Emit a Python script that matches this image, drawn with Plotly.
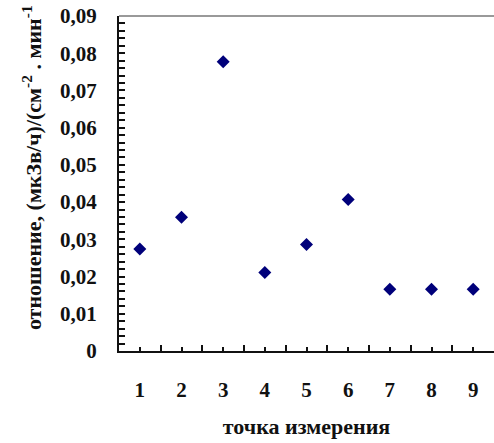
import plotly.graph_objects as go

points = [1, 2, 3, 4, 5, 6, 7, 8, 9]
ratio = [0.0274, 0.0359, 0.0777, 0.0211, 0.0286, 0.0407, 0.0166, 0.0166, 0.0166]
y_ticks = [0, 0.01, 0.02, 0.03, 0.04, 0.05, 0.06, 0.07, 0.08, 0.09]
y_tick_labels = ["0", "0,01", "0,02", "0,03", "0,04", "0,05", "0,06", "0,07", "0,08", "0,09"]
x_title = "<b>точка измерения</b>"
y_title = "<b>отношение, (мкЗв/ч)/(см<sup>-2</sup> . мин<sup>-1</sup></b>"

font_family = "Liberation Serif"

fig = go.Figure()
fig.add_trace(go.Scatter(
    x=points, y=ratio, mode="markers",
    marker=dict(symbol="diamond", size=10, color="#00007a"),
    showlegend=False,
))

fig.update_layout(
    width=494, height=443,
    margin=dict(l=119, r=0, t=16, b=92),
    paper_bgcolor="white", plot_bgcolor="white",
    font=dict(family=font_family, size=18, color="#111"),
    xaxis=dict(
        range=[0.5, 9.5],
        tickmode="array", tickvals=points, ticktext=["<b>%d</b>" % p for p in points],
        ticks="inside", ticklen=4, tickwidth=1.5, tickcolor="#111",
        showline=True, linecolor="#111", linewidth=1.5,
        showgrid=False, zeroline=False,
        ticklabelstandoff=19,
        tickfont=dict(size=21, family=font_family),
        title=dict(text=x_title, font=dict(size=22, family=font_family), standoff=18),
        minor=dict(tickmode="array", tickvals=[1.5, 2.5, 3.5, 4.5, 5.5, 6.5, 7.5, 8.5],
                   ticks="inside", ticklen=6, tickwidth=1.5, tickcolor="#111"),
    ),
    yaxis=dict(
        range=[0, 0.09],
        tickmode="array", tickvals=y_ticks, ticktext=["<b>%s</b>" % t for t in y_tick_labels],
        ticks="inside", ticklen=6, tickwidth=1.5, tickcolor="#111",
        showline=True, linecolor="#111", linewidth=2,
        showgrid=False, zeroline=False,
        ticklabelstandoff=16,
        tickfont=dict(size=21, family=font_family),
        minor=dict(dtick=0.002, tick0=0, ticks="inside", ticklen=6, tickwidth=1.5, tickcolor="#111"),
    ),
    shapes=[dict(type="line", xref="paper", yref="paper", x0=0, x1=1, y0=1, y1=1,
                 line=dict(color="#999999", width=2))],
    annotations=[dict(text=y_title, textangle=-90, showarrow=False,
                      xref="paper", yref="paper", x=0, y=0.546,
                      xanchor="center", yanchor="middle", xshift=-87,
                      font=dict(size=22, family=font_family, color="#111"))],
)

fig.write_html("out.html")
